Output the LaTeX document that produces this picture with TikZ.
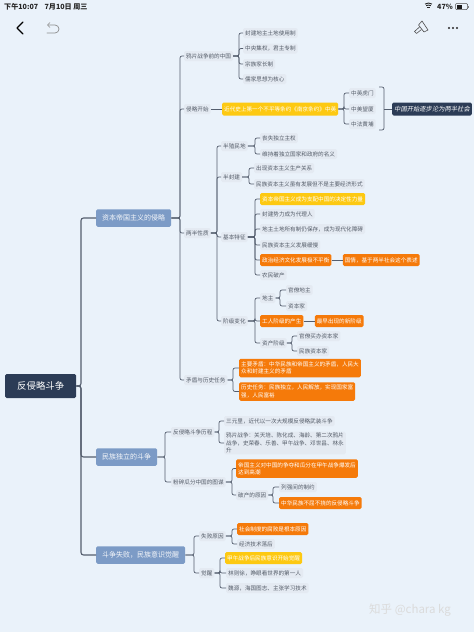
\documentclass[tikz,border=0pt]{standalone}
\usepackage{fontspec}
\setmainfont{Noto Sans CJK SC}
\newfontfamily\slantfont[FakeSlant=0.2]{Noto Sans CJK SC}
\usepackage{tikz}
\usetikzlibrary{positioning}
\definecolor{pagebg}{RGB}{234,242,250}
\definecolor{navy}{RGB}{44,60,86}
\definecolor{steel}{RGB}{124,155,198}
\definecolor{labgray}{RGB}{228,234,242}
\definecolor{labtext}{RGB}{84,92,104}
\definecolor{hotorange}{RGB}{245,122,10}
\definecolor{hotyellow}{RGB}{253,201,18}
\definecolor{linkgray}{RGB}{84,94,110}
\newcommand{\branch}[4][lnk]{%
  \foreach \kid in {#4} {\draw[#1] (#2.east) -- (#3,0 |- #2.east) |- (\kid.west);}}

\begin{document}
\begin{tikzpicture}[
  x=1pt, y=-1pt,
  font=\fontsize{5.6}{7.2}\selectfont,
  lab/.style={anchor=west, fill=labgray, text=labtext, rounded corners=1.5pt,
              inner xsep=2pt, inner ysep=0pt, minimum height=10pt, align=left},
  orange/.style={lab, fill=hotorange, text=white, minimum height=12pt},
  yellow/.style={orange, fill=hotyellow},
  rootbox/.style={lab, fill=navy, text=white, minimum height=24pt, minimum width=71pt,
                  align=center, font=\fontsize{9.4}{11}\selectfont},
  topic/.style={lab, fill=steel, text=white!92!steel, minimum height=17.5pt, inner xsep=6pt,
                font=\fontsize{7}{9}\selectfont},
  lnk/.style={linkgray, line width=0.7pt, rounded corners=2pt},
  lnkmain/.style={lnk, line width=1.1pt, rounded corners=2.5pt},
  icon/.style={line width=1pt, line cap=round, line join=round},
  status/.style={anchor=west, text=black!85, inner sep=0pt, font=\fontsize{7.1}{8}\selectfont\bfseries}
]
\fill[pagebg] (0,0) rectangle (474,632);
\useasboundingbox (0,0) rectangle (474,632);

%% status bar and toolbar
\node[status] (clock) at (4,6.5) {下午10:07};
\node[status, right=6pt of clock] (date) {7月10日 周三};
\node[status] (pct) at (437,6.5) {47\%};
\draw[line width=0.5pt, black!70, rounded corners=1pt] (455.5,3.5) rectangle (467.5,9.5);
\fill[black!90] (456.5,4.5) rectangle (461.5,8.5);
\fill[black!50] (468.2,5.5) rectangle (469.2,7.5);
\foreach \r in {2,4,6} {\draw[line width=0.9pt, black!85] (428.5,9)+(-55:\r) arc[start angle=-55, end angle=-125, radius=\r];}
\draw[icon, line width=1.4pt, black] (23,22) -- (17,28) -- (23,34);
\draw[icon, line width=0.7pt, black!45] (47,33) -- (55,33) arc[start angle=90, end angle=-90, radius=4] -- (48,25);
\draw[icon, line width=0.7pt, black!45] (50,22.5) -- (47.5,25) -- (50,27.5);
\draw[icon, line width=0.6pt, black!70] (418.5,25) -- (422,21) -- (428,30) -- (424,32) -- cycle;
\draw[icon, line width=0.6pt, black!70] (419.5,27) -- (414.5,31.5) -- (416.5,33.5) -- (421.5,29.5);
\fill[black!85] (449,28) circle (1.1) (453,28) circle (1.1) (457,28) circle (1.1);

\node[rootbox] (root) at (5,386) {反侵略斗争};
\node[topic] (imp)  at (96,218) {资本帝国主义的侵略};
\node[topic] (ind)  at (96,457) {民族独立的斗争};
\node[topic] (fail) at (96,555) {斗争失败，民族意识觉醒};

%% first topic
\node[lab] (pre)  at (184,56)  {鸦片战争前的中国};
\node[lab] (star) at (184,109) {侵略开始};
\node[lab] (two)  at (184,233) {两半性质};
\node[lab] (task) at (184,380) {矛盾与历史任务};

\node[lab] (pre1) at (243,33)   {封建地主土地使用制};
\node[lab] (pre2) at (243,48.5) {中央集权，君主专制};
\node[lab] (pre3) at (243,64)   {宗族家长制};
\node[lab] (pre4) at (243,79)   {儒家思想为核心};

\node[yellow, minimum height=13pt] (nj) at (222,109) {近代史上第一个不平等条约《南京条约》中英};
\node[lab] (nj1) at (349,93)  {中英虎门};
\node[lab] (nj2) at (349,109) {中美望厦};
\node[lab] (nj3) at (349,124) {中法黄埔};
\node[lab, fill=navy, text=white, minimum height=13pt, font=\fontsize{6.3}{8}\selectfont\slantfont] (semi) at (392,109) {中国开始逐步沦为两半社会};
\coordinate (brt) at (379,87);
\coordinate (brb) at (379,130);
\coordinate (brm) at (384,109);

\node[lab] (col)  at (221,146) {半殖民地};
\node[lab] (feu)  at (221,177) {半封建};
\node[lab] (base) at (221,237) {基本特征};
\node[lab] (cls)  at (221,321) {阶级变化};

\node[lab] (col1) at (260,138) {丧失独立主权};
\node[lab] (col2) at (260,154) {维持着独立国家和政府的名义};
\node[lab] (feu1) at (254,168) {出现资本主义生产关系};
\node[lab] (feu2) at (254,184) {民族资本主义虽有发展但不是主要经济形式};

\node[yellow] (base1) at (260,199) {资本帝国主义成为支配中国的决定性力量};
\node[lab] (base2) at (260,214) {封建势力成为代理人};
\node[lab] (base3) at (260,229) {地主土地所有制仍保存，成为现代化障碍};
\node[lab] (base4) at (260,245) {民族资本主义发展缓慢};
\node[orange] (base5) at (260,260) {政治经济文化发展极不平衡};
\node[orange, right=11pt of base5] (base5a) {国情，基于两半社会这个表述};
\node[lab] (base6) at (260,275) {农民破产};

\node[lab] (lord) at (260,298) {地主};
\node[lab] (lord1) at (286,290) {官僚地主};
\node[lab] (lord2) at (286,306) {资本家};
\node[orange] (work) at (260,321) {工人阶级的产生};
\node[orange, right=11pt of work] (work1) {最早出现的新阶级};
\node[lab] (bour) at (260,343) {资产阶级};
\node[lab] (bour1) at (297,336) {官僚买办资本家};
\node[lab] (bour2) at (297,351) {民族资本家};

\node[orange, minimum height=18.5pt] (task1) at (239,368) {主要矛盾：中华民族和帝国主义的矛盾，人民大\\众和封建主义的矛盾};
\node[orange, minimum height=18.5pt] (task2) at (239,391.5) {历史任务：民族独立，人民解放，实现国家富\\强，人民富裕};

%% second topic
\node[lab] (his) at (171,432) {反侵略斗争历程};
\node[lab] (par) at (171,482) {粉碎瓜分中国的图谋};
\node[lab] (his1) at (224,421) {三元里，近代以一次大规模反侵略武装斗争};
\node[lab, inner ysep=1.5pt] (his2) at (224,443) {鸦片战争：关天培、陈化成、海龄、第二次鸦片\\战争，史荣春、乐善、甲午战争、邓世昌、林永\\升};
\node[orange, minimum height=18.5pt] (par1) at (236,468.5) {帝国主义对中国的争夺和瓜分在甲午战争爆发后\\达到高潮};
\node[lab] (brk) at (236,495) {破产的原因};
\node[lab] (brk1) at (279,487) {列强间的制约};
\node[orange] (brk2) at (279,503) {中华民族不屈不挠的反侵略斗争};

%% third topic
\node[lab] (why)  at (199,536) {失败原因};
\node[lab] (wake) at (199,573) {觉醒};
\node[orange] (why1) at (237,529) {社会制度的腐败是根本原因};
\node[lab] (why2) at (237,544) {经济技术落后};
\node[yellow] (wake1) at (225,558) {甲午战争后民族意识开始觉醒};
\node[lab] (wake2) at (226,573) {林则徐，睁眼看世界的第一人};
\node[lab] (wake3) at (226,588) {魏源，海国图志、主张学习技术};

\node[anchor=west, text=white!72!gray, inner sep=0pt, font=\fontsize{11.5}{14}\selectfont] (mark) at (369,610) {知乎 @chara kg};

\branch[lnkmain]{root}{81}{imp,ind,fail}
\branch{imp}{180}{pre,star,two,task}
\branch{pre}{239}{pre1,pre2,pre3,pre4}
\draw[lnk] (star) -- (nj);
\branch{nj}{344}{nj1,nj2,nj3}
\draw[lnk] (brt) -- (brt -| brm) -- (brb -| brm) -- (brb);
\draw[lnk] (brm) -- (semi);
\branch{two}{217}{col,feu,base,cls}
\branch{col}{255}{col1,col2}
\branch{feu}{249}{feu1,feu2}
\branch{base}{255}{base1,base2,base3,base4,base5,base6}
\draw[lnk] (base5) -- (base5a);
\branch{cls}{255}{lord,work,bour}
\branch{lord}{280}{lord1,lord2}
\draw[lnk] (work) -- (work1);
\branch{bour}{292}{bour1,bour2}
\branch{task}{233}{task1,task2}
\branch{ind}{165}{his,par}
\branch{his}{219}{his1,his2}
\branch{par}{232}{par1,brk}
\branch{brk}{273}{brk1,brk2}
\branch{fail}{194}{why,wake}
\branch{why}{232}{why1,why2}
\branch{wake}{220}{wake1,wake2,wake3}
\end{tikzpicture}
\end{document}
